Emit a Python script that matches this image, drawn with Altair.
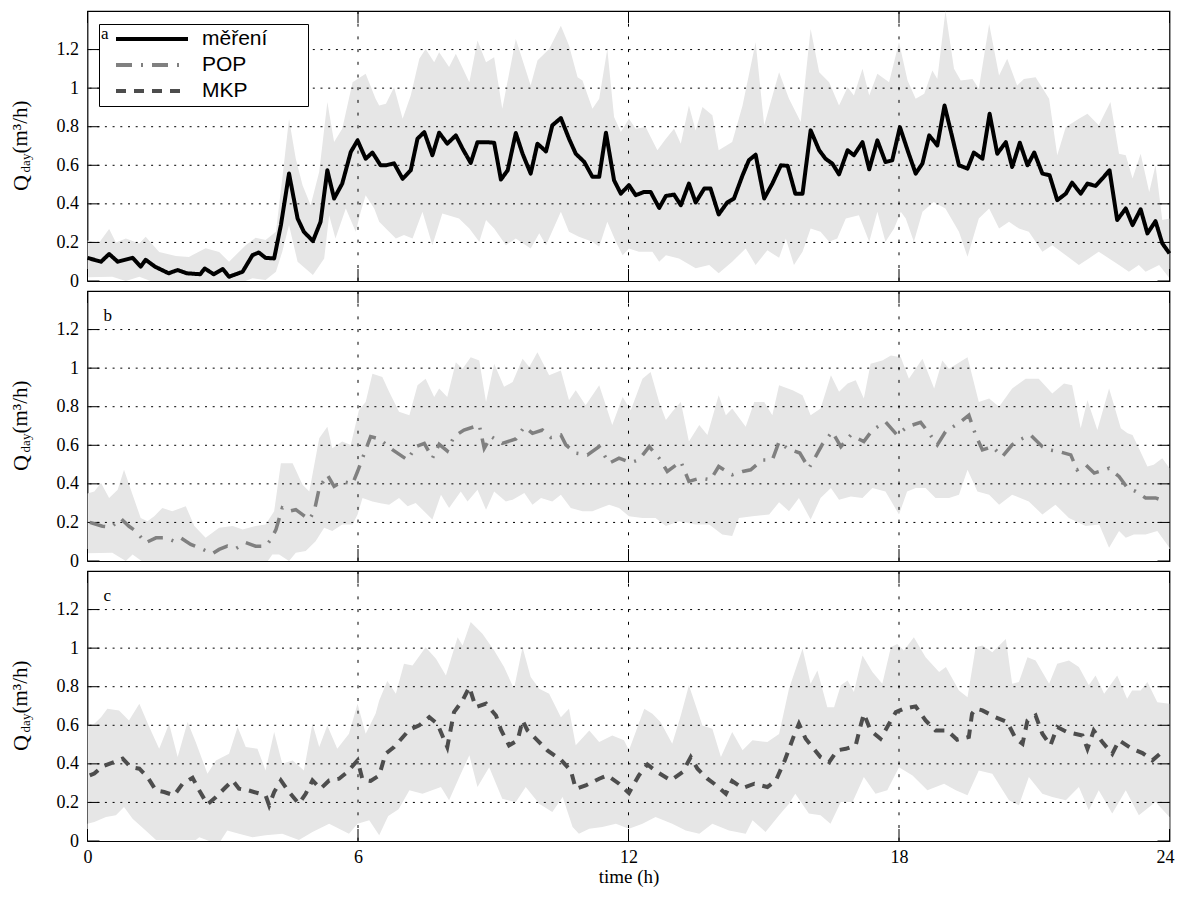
import altair as alt
import pandas as pd

W, H = 1082, 270
X_TICKS = [0, 6, 12, 18, 24]
Y_TICKS = [0, 0.2, 0.4, 0.6, 0.8, 1.0, 1.2]
SERIES = ["měření", "POP", "MKP"]
SERIES_COLORS = ["#000000", "#808080", "#4d4d4d"]
SERIES_DASH = [[1, 0], [16, 9, 2, 9], [10, 8]]
BAND = "#e6e6e6"

# ---- panel a: measured flow (time h, Q m3/h)
A_LINE = [(0.0,0.12),(0.3,0.10),(0.48,0.14),(0.67,0.10),(1.0,0.12),(1.18,0.075),(1.29,0.11),(1.5,0.074),(1.8,0.04),(2.0,0.057),(2.2,0.04),(2.5,0.035),(2.6,0.065),(2.8,0.035),(3.0,0.062),(3.14,0.022),(3.44,0.048),(3.66,0.134),(3.8,0.148),(3.95,0.12),(4.14,0.117),(4.29,0.29),(4.47,0.557),(4.66,0.324),(4.8,0.255),(5.0,0.207),(5.17,0.307),(5.32,0.574),(5.47,0.428),(5.65,0.505),(5.84,0.669),(5.99,0.729),(6.17,0.634),(6.32,0.666),(6.5,0.6),(6.62,0.6),(6.8,0.61),(6.99,0.53),(7.17,0.574),(7.32,0.738),(7.47,0.772),(7.65,0.652),(7.8,0.769),(7.98,0.712),(8.17,0.755),(8.32,0.686),(8.5,0.612),(8.65,0.72),(8.83,0.72),(9.02,0.717),(9.17,0.526),(9.32,0.574),(9.5,0.767),(9.65,0.66),(9.83,0.557),(9.98,0.712),(10.17,0.672),(10.31,0.807),(10.5,0.845),(10.68,0.738),(10.83,0.66),(11.02,0.617),(11.2,0.54),(11.35,0.54),(11.5,0.769),(11.68,0.522),(11.83,0.453),(12.01,0.497),(12.16,0.445),(12.35,0.462),(12.49,0.462),(12.68,0.379),(12.83,0.441),(13.01,0.448),(13.16,0.393),(13.34,0.505),(13.49,0.407),(13.68,0.479),(13.82,0.479),(14.0,0.345),(14.19,0.407),(14.34,0.428),(14.53,0.548),(14.67,0.626),(14.82,0.655),(15.01,0.428),(15.19,0.505),(15.38,0.6),(15.53,0.597),(15.7,0.453),(15.86,0.453),(16.04,0.781),(16.23,0.678),(16.37,0.634),(16.52,0.609),(16.67,0.553),(16.86,0.678),(17.0,0.652),(17.19,0.72),(17.34,0.579),(17.52,0.729),(17.7,0.617),(17.85,0.626),(18.02,0.798),(18.19,0.678),(18.37,0.557),(18.52,0.609),(18.67,0.755),(18.85,0.703),(19.01,0.91),(19.18,0.747),(19.33,0.6),(19.52,0.583),(19.66,0.666),(19.85,0.634),(20.01,0.867),(20.18,0.66),(20.37,0.72),(20.51,0.591),(20.68,0.717),(20.85,0.6),(21.0,0.666),(21.18,0.557),(21.34,0.548),(21.51,0.419),(21.7,0.453),(21.84,0.51),(22.03,0.453),(22.18,0.505),(22.36,0.493),(22.51,0.531),(22.67,0.574),(22.84,0.316),(23.03,0.376),(23.18,0.29),(23.36,0.372),(23.51,0.247),(23.69,0.31),(23.84,0.195),(24.0,0.143)]
A_UP = [(0.0,0.21),(0.26,0.2),(0.48,0.27),(0.63,0.2),(0.85,0.22),(1.15,0.195),(1.29,0.23),(1.59,0.15),(1.96,0.13),(2.25,0.125),(2.62,0.17),(2.92,0.15),(3.14,0.1),(3.51,0.186),(3.73,0.224),(3.95,0.212),(4.18,0.255),(4.32,0.53),(4.47,0.84),(4.62,0.634),(4.77,0.497),(4.95,0.393),(5.14,0.566),(5.32,0.928),(5.47,0.721),(5.65,0.79),(5.88,1.03),(6.17,1.074),(6.39,0.945),(6.47,0.91),(6.62,0.919),(6.8,1.005),(6.99,0.841),(7.17,0.962),(7.36,1.152),(7.5,1.203),(7.69,1.134),(7.8,1.186),(8.02,1.109),(8.17,1.178),(8.47,1.031),(8.65,1.247),(8.84,1.134),(9.02,1.16),(9.2,0.893),(9.5,1.255),(9.83,1.014),(9.98,1.143),(10.24,1.203),(10.5,1.324),(10.68,1.221),(10.87,1.057),(10.98,1.04),(11.2,0.893),(11.35,0.945),(11.53,1.203),(11.68,0.85),(11.83,0.772),(12.01,0.841),(12.16,0.79),(12.38,0.798),(12.64,0.678),(12.83,0.738),(13.01,0.79),(13.16,0.712),(13.34,0.91),(13.49,0.781),(13.64,0.902),(13.86,0.859),(14.0,0.678),(14.3,0.721),(14.53,0.91),(14.82,1.238),(15.01,0.807),(15.34,1.083),(15.56,0.945),(15.82,0.824),(16.04,1.307),(16.23,1.083),(16.45,1.031),(16.67,0.91),(16.86,1.005),(17.0,0.962),(17.19,1.1),(17.34,0.962),(17.52,1.074),(17.78,1.031),(18.0,1.238),(18.19,1.04),(18.37,0.945),(18.56,0.971),(18.74,1.091),(18.85,1.048),(19.03,1.4),(19.22,1.1),(19.37,1.04),(19.63,1.048),(19.77,0.997),(20.0,1.333),(20.22,1.066),(20.4,1.152),(20.62,1.014),(20.77,1.048),(21.03,1.057),(21.33,0.945),(21.51,0.652),(21.7,0.798),(21.99,0.841),(22.18,0.867),(22.43,0.807),(22.69,0.928),(22.88,0.66),(23.03,0.652),(23.18,0.531),(23.36,0.66),(23.55,0.462),(23.69,0.6),(23.84,0.316),(24.0,0.324)]
A_LO = [(0.0,0.02),(0.55,0.022),(0.85,0.0),(1.15,0.022),(1.4,0.0),(3.5,0.0),(3.66,0.014),(3.95,0.005),(4.18,0.048),(4.32,0.152),(4.47,0.29),(4.66,0.1),(5.0,0.031),(5.25,0.117),(5.36,0.341),(5.5,0.221),(5.73,0.376),(5.95,0.255),(6.06,0.359),(6.17,0.445),(6.36,0.376),(6.47,0.307),(6.69,0.255),(6.84,0.221),(7.02,0.238),(7.21,0.221),(7.43,0.359),(7.65,0.186),(7.87,0.35),(8.24,0.324),(8.47,0.272),(8.69,0.203),(8.84,0.316),(9.02,0.272),(9.28,0.186),(9.5,0.221),(9.83,0.169),(10.02,0.247),(10.17,0.186),(10.5,0.359),(10.68,0.255),(10.9,0.229),(11.2,0.203),(11.35,0.178),(11.53,0.307),(11.72,0.203),(11.87,0.134),(12.01,0.169),(12.23,0.152),(12.53,0.152),(12.68,0.1),(12.83,0.134),(13.12,0.117),(13.49,0.066),(13.79,0.083),(14.0,0.04),(14.3,0.1),(14.6,0.169),(14.82,0.083),(15.08,0.16),(15.34,0.12),(15.49,0.221),(15.67,0.083),(15.86,0.152),(16.04,0.272),(16.26,0.255),(16.45,0.203),(16.63,0.221),(16.82,0.324),(17.11,0.341),(17.34,0.203),(17.52,0.359),(17.7,0.203),(17.89,0.272),(18.04,0.359),(18.15,0.324),(18.33,0.203),(18.52,0.359),(18.77,0.41),(19.03,0.376),(19.33,0.255),(19.52,0.126),(19.77,0.324),(20.0,0.376),(20.22,0.272),(20.44,0.307),(20.66,0.272),(20.88,0.255),(21.18,0.152),(21.4,0.186),(21.7,0.134),(21.99,0.083),(22.21,0.117),(22.43,0.152),(22.66,0.117),(22.88,0.083),(23.1,0.048),(23.32,0.083),(23.47,0.048),(23.77,0.083),(24.0,0.014)]

# ---- panel b: POP prediction
B_LINE = [(0.05,0.2),(0.33,0.18),(0.52,0.175),(0.74,0.22),(0.92,0.18),(1.07,0.155),(1.29,0.095),(1.52,0.12),(1.74,0.12),(1.92,0.103),(2.07,0.12),(2.29,0.086),(2.51,0.065),(2.77,0.038),(2.92,0.06),(3.1,0.077),(3.29,0.065),(3.51,0.095),(3.73,0.077),(3.95,0.077),(4.07,0.112),(4.18,0.163),(4.32,0.275),(4.47,0.258),(4.62,0.266),(4.77,0.24),(4.92,0.215),(5.03,0.258),(5.14,0.378),(5.32,0.447),(5.47,0.387),(5.65,0.412),(5.88,0.4),(5.99,0.464),(6.1,0.533),(6.28,0.645),(6.47,0.633),(6.77,0.576),(7.1,0.524),(7.28,0.593),(7.47,0.61),(7.65,0.533),(7.8,0.605),(7.98,0.571),(8.13,0.645),(8.35,0.679),(8.69,0.705),(8.8,0.584),(8.95,0.645),(9.2,0.61),(9.5,0.633),(9.69,0.696),(9.87,0.662),(10.09,0.679),(10.28,0.64),(10.5,0.653),(10.61,0.602),(10.83,0.559),(11.09,0.55),(11.35,0.593),(11.57,0.507),(11.79,0.533),(12.05,0.511),(12.23,0.524),(12.46,0.593),(12.68,0.533),(12.86,0.464),(13.16,0.516),(13.34,0.413),(13.6,0.43),(13.82,0.421),(14.0,0.49),(14.3,0.447),(14.53,0.464),(14.71,0.473),(14.97,0.524),(15.19,0.524),(15.34,0.619),(15.52,0.584),(15.8,0.56),(16.0,0.481),(16.15,0.541),(16.3,0.605),(16.52,0.67),(16.71,0.593),(16.93,0.653),(17.22,0.619),(17.41,0.679),(17.7,0.722),(17.96,0.653),(18.18,0.696),(18.48,0.719),(18.67,0.662),(18.85,0.602),(19.03,0.67),(19.37,0.722),(19.55,0.756),(19.7,0.653),(19.85,0.576),(20.07,0.593),(20.29,0.541),(20.51,0.602),(20.66,0.627),(20.92,0.653),(21.18,0.593),(21.33,0.576),(21.55,0.567),(21.81,0.55),(21.95,0.473),(22.14,0.499),(22.33,0.456),(22.66,0.481),(22.88,0.438),(23.07,0.378),(23.25,0.361),(23.47,0.327),(23.69,0.327),(23.91,0.309)]
B_UP = [(0.0,0.35),(0.15,0.361),(0.3,0.404),(0.48,0.327),(0.67,0.37),(0.81,0.473),(1.0,0.344),(1.18,0.223),(1.33,0.206),(1.48,0.232),(1.66,0.275),(1.88,0.258),(2.18,0.284),(2.37,0.181),(2.62,0.12),(2.92,0.172),(3.22,0.181),(3.44,0.163),(3.73,0.181),(3.95,0.189),(4.14,0.258),(4.29,0.507),(4.55,0.507),(4.77,0.395),(4.92,0.361),(5.14,0.636),(5.32,0.696),(5.43,0.584),(5.65,0.619),(5.84,0.602),(6.02,0.782),(6.17,0.825),(6.32,0.971),(6.54,0.954),(6.69,0.877),(6.91,0.774),(7.14,0.756),(7.32,0.911),(7.5,0.945),(7.69,0.851),(7.8,0.894),(7.98,0.851),(8.17,1.031),(8.32,0.997),(8.5,1.057),(8.69,1.04),(8.84,0.825),(9.02,1.023),(9.24,0.903),(9.43,0.928),(9.65,1.049),(9.8,1.006),(9.98,1.083),(10.24,0.963),(10.5,0.988),(10.68,0.834),(10.83,0.885),(11.05,0.808),(11.35,0.911),(11.64,0.705),(11.87,0.851),(12.05,0.782),(12.31,0.945),(12.49,0.98),(12.68,0.825),(12.83,0.731),(12.97,0.774),(13.16,0.825),(13.34,0.619),(13.57,0.705),(13.75,0.653),(14.0,0.86),(14.16,0.756),(14.3,0.791),(14.6,0.696),(14.79,0.825),(15.01,0.825),(15.19,0.756),(15.34,0.911),(15.64,0.885),(15.86,0.86),(16.04,0.756),(16.26,0.791),(16.49,0.963),(16.67,0.877),(16.86,0.92),(17.04,0.937),(17.22,0.842),(17.37,1.023),(17.63,1.04),(17.82,1.066),(18.04,1.057),(18.22,0.945),(18.52,1.049),(18.78,0.894),(18.96,1.04),(19.11,0.997),(19.52,1.057),(19.77,0.825),(20.0,0.842),(20.22,0.8),(20.51,0.894),(20.81,0.945),(21.1,0.945),(21.4,0.868),(21.66,0.92),(21.84,0.911),(22.03,0.688),(22.18,0.834),(22.4,0.679),(22.66,0.894),(22.92,0.688),(23.07,0.662),(23.18,0.653),(23.32,0.584),(23.51,0.49),(23.65,0.499),(23.84,0.533),(24.0,0.481)]
B_LO = [(0.0,0.04),(0.55,0.043),(0.85,0.0),(1.0,0.034),(1.2,0.0),(4.0,0.0),(4.1,0.034),(4.25,0.034),(4.47,0.0),(4.62,0.043),(4.84,0.052),(5.06,0.103),(5.25,0.172),(5.43,0.155),(5.65,0.189),(5.88,0.189),(5.99,0.241),(6.1,0.327),(6.32,0.309),(6.5,0.3),(6.69,0.292),(6.91,0.327),(7.1,0.284),(7.28,0.301),(7.65,0.215),(7.84,0.344),(8.02,0.275),(8.28,0.361),(8.43,0.309),(8.65,0.37),(8.84,0.266),(9.02,0.361),(9.28,0.309),(9.43,0.318),(9.69,0.352),(9.87,0.292),(10.06,0.327),(10.31,0.309),(10.5,0.344),(10.72,0.275),(10.98,0.258),(11.2,0.258),(11.38,0.275),(11.57,0.292),(11.79,0.275),(12.01,0.232),(12.31,0.223),(12.6,0.223),(12.83,0.181),(13.12,0.206),(13.49,0.189),(13.79,0.189),(14.08,0.138),(14.3,0.129),(14.45,0.223),(14.75,0.232),(15.12,0.241),(15.34,0.305),(15.56,0.258),(15.78,0.327),(16.04,0.215),(16.26,0.327),(16.49,0.378),(16.67,0.318),(16.93,0.335),(17.19,0.327),(17.41,0.378),(17.7,0.361),(18.0,0.241),(18.18,0.361),(18.37,0.378),(18.59,0.378),(18.81,0.327),(19.11,0.327),(19.33,0.344),(19.52,0.473),(19.74,0.361),(20.0,0.344),(20.22,0.292),(20.51,0.344),(20.88,0.309),(21.18,0.241),(21.47,0.292),(21.77,0.223),(22.14,0.181),(22.44,0.189),(22.66,0.069),(22.88,0.155),(23.03,0.12),(23.21,0.138),(23.47,0.138),(23.73,0.155),(24.0,0.069)]

# ---- panel c: MKP prediction
C_LINE = [(0.05,0.34),(0.15,0.35),(0.33,0.387),(0.59,0.41),(0.78,0.427),(0.96,0.383),(1.15,0.375),(1.33,0.332),(1.52,0.262),(1.7,0.254),(1.92,0.237),(2.11,0.297),(2.33,0.328),(2.48,0.262),(2.66,0.19),(2.85,0.228),(3.07,0.28),(3.22,0.314),(3.36,0.271),(3.58,0.262),(3.77,0.249),(3.95,0.237),(4.03,0.185),(4.14,0.254),(4.29,0.314),(4.47,0.254),(4.69,0.193),(4.84,0.245),(4.99,0.314),(5.17,0.271),(5.36,0.314),(5.58,0.323),(5.76,0.357),(5.99,0.418),(6.1,0.318),(6.28,0.311),(6.47,0.34),(6.61,0.452),(6.8,0.487),(7.14,0.577),(7.36,0.6),(7.58,0.642),(7.76,0.608),(7.98,0.487),(8.13,0.668),(8.32,0.729),(8.47,0.798),(8.61,0.694),(8.84,0.712),(9.06,0.651),(9.17,0.577),(9.35,0.496),(9.54,0.522),(9.65,0.625),(9.76,0.573),(9.98,0.522),(10.2,0.47),(10.5,0.421),(10.72,0.366),(10.83,0.271),(11.05,0.288),(11.35,0.323),(11.53,0.34),(11.79,0.297),(12.01,0.249),(12.23,0.34),(12.42,0.397),(12.64,0.357),(12.94,0.314),(13.2,0.357),(13.38,0.435),(13.53,0.375),(13.75,0.323),(13.9,0.297),(14.16,0.245),(14.3,0.311),(14.53,0.275),(14.79,0.297),(15.08,0.28),(15.27,0.314),(15.47,0.42),(15.66,0.54),(15.78,0.608),(15.93,0.53),(16.08,0.487),(16.26,0.435),(16.45,0.409),(16.63,0.47),(16.82,0.478),(17.04,0.496),(17.15,0.599),(17.22,0.66),(17.37,0.573),(17.59,0.53),(17.78,0.608),(17.93,0.668),(18.11,0.686),(18.37,0.698),(18.59,0.625),(18.81,0.573),(19.07,0.573),(19.29,0.525),(19.55,0.54),(19.62,0.66),(19.7,0.686),(19.85,0.677),(20.14,0.642),(20.4,0.617),(20.59,0.53),(20.74,0.504),(20.85,0.625),(21.03,0.651),(21.18,0.556),(21.36,0.496),(21.51,0.591),(21.73,0.565),(22.07,0.547),(22.18,0.478),(22.32,0.573),(22.51,0.513),(22.73,0.452),(22.88,0.522),(23.17,0.478),(23.4,0.456),(23.62,0.418),(23.88,0.47)]
C_UP = [(0.0,0.6),(0.15,0.608),(0.3,0.642),(0.44,0.686),(0.7,0.677),(0.92,0.625),(1.15,0.712),(1.37,0.591),(1.59,0.478),(1.81,0.608),(2.0,0.435),(2.22,0.617),(2.4,0.513),(2.66,0.349),(2.85,0.418),(3.14,0.453),(3.33,0.591),(3.51,0.487),(3.77,0.478),(3.95,0.366),(4.14,0.565),(4.32,0.401),(4.55,0.418),(4.8,0.366),(4.99,0.608),(5.14,0.487),(5.32,0.599),(5.54,0.478),(5.8,0.556),(5.99,0.712),(6.17,0.556),(6.39,0.66),(6.47,0.729),(6.65,0.83),(6.84,0.763),(7.02,0.919),(7.21,0.91),(7.5,1.005),(7.73,0.945),(7.95,0.858),(8.21,1.057),(8.32,1.014),(8.5,1.135),(8.76,1.074),(9.02,0.988),(9.24,0.902),(9.46,0.789),(9.65,1.005),(9.83,0.85),(10.02,0.789),(10.24,0.763),(10.5,0.642),(10.68,0.686),(10.83,0.496),(11.13,0.573),(11.35,0.513),(11.64,0.547),(11.9,0.522),(12.01,0.47),(12.35,0.686),(12.53,0.66),(12.71,0.617),(12.97,0.504),(13.16,0.651),(13.34,0.807),(13.64,0.599),(13.86,0.582),(14.05,0.435),(14.3,0.565),(14.53,0.47),(14.75,0.522),(15.08,0.513),(15.34,0.555),(15.56,0.79),(15.86,0.997),(16.04,0.815),(16.19,0.884),(16.41,0.694),(16.56,0.694),(16.71,0.807),(16.86,0.832),(17.0,0.772),(17.19,0.962),(17.41,0.876),(17.63,0.815),(17.82,1.005),(17.96,1.022),(18.11,0.988),(18.33,1.057),(18.59,0.953),(18.89,0.876),(19.04,0.902),(19.33,0.781),(19.52,0.746),(19.7,1.005),(19.85,1.014),(20.07,0.979),(20.37,1.048),(20.51,0.815),(20.66,0.824),(20.85,0.953),(21.03,0.936),(21.33,0.815),(21.51,0.919),(21.77,0.936),(21.99,0.902),(22.21,0.807),(22.36,0.858),(22.55,0.763),(22.84,0.858),(23.06,0.737),(23.17,0.781),(23.36,0.781),(23.51,0.824),(23.73,0.72),(24.0,0.712)]
C_LO = [(0.0,0.09),(0.15,0.098),(0.41,0.124),(0.63,0.133),(0.81,0.176),(1.0,0.116),(1.29,0.055),(1.52,0.005),(2.4,0.005),(2.48,0.02),(2.7,0.0),(2.95,0.0),(3.1,0.055),(3.36,0.038),(3.66,0.02),(3.95,0.03),(4.32,0.038),(4.69,0.005),(4.99,0.047),(5.36,0.09),(5.8,0.038),(5.99,0.09),(6.25,0.107),(6.47,0.03),(6.67,0.13),(6.9,0.165),(7.14,0.263),(7.43,0.245),(7.84,0.28),(8.02,0.211),(8.28,0.349),(8.47,0.444),(8.65,0.28),(8.91,0.383),(9.2,0.219),(9.5,0.202),(9.72,0.28),(10.02,0.193),(10.31,0.15),(10.54,0.228),(10.76,0.073),(10.9,0.038),(11.13,0.064),(11.42,0.073),(11.72,0.09),(12.01,0.064),(12.31,0.09),(12.6,0.124),(12.97,0.09),(13.27,0.055),(13.57,0.038),(13.86,0.09),(14.23,0.055),(14.6,0.038),(14.75,0.107),(15.04,0.047),(15.34,0.133),(15.56,0.193),(15.7,0.245),(16.0,0.142),(16.26,0.133),(16.48,0.09),(16.71,0.202),(16.97,0.202),(17.22,0.332),(17.48,0.245),(17.74,0.263),(18.0,0.383),(18.3,0.34),(18.63,0.263),(19.0,0.297),(19.26,0.263),(19.52,0.237),(19.77,0.366),(20.07,0.349),(20.44,0.211),(20.66,0.185),(20.88,0.332),(21.18,0.245),(21.4,0.228),(21.7,0.211),(21.99,0.28),(22.21,0.159),(22.43,0.263),(22.73,0.142),(23.03,0.263),(23.32,0.133),(23.69,0.202),(24.0,0.124)]

SERIF = "Liberation Serif"
SANS = "Liberation Sans"

xs = alt.Scale(domain=[0, 24], nice=False, zero=False)
ys = alt.Scale(domain=[0, 1.4], nice=False)


def X(field, show):
    if not show:
        return alt.X(f"{field}:Q", scale=xs, axis=None)
    return alt.X(f"{field}:Q", scale=xs, title="time (h)",
                 axis=alt.Axis(values=X_TICKS, ticks=False, domain=False, grid=False,
                               labelFlush=True, labelFlushOffset=4.5,
                               labelFont=SERIF, labelFontSize=18, labelColor="black",
                               labelPadding=7, titleFont=SERIF, titleFontSize=19,
                               titleFontWeight="normal", titleColor="black", titlePadding=1))


def Y(field):
    return alt.Y(f"{field}:Q", scale=ys, title=None,
                 axis=alt.Axis(values=Y_TICKS, format="~g", ticks=False, domain=False, grid=False,
                               labelFont=SERIF, labelFontSize=18, labelColor="black",
                               labelPadding=9))


def df(pairs):
    return pd.DataFrame(pairs, columns=["t", "q"])


def one(s):
    return pd.DataFrame({"s": [s]})


def ytitle_piece(text, size, x, y):
    return alt.Chart(one(text)).mark_text(font=SERIF, fontSize=size, angle=270, align="center",
                                          baseline="alphabetic", color="black").encode(
        text="s:N", x=alt.value(x), y=alt.value(y))


def panel(line_layer, up, lo, letter, show_x):
    band_up = alt.Chart(df(up)).mark_area(color=BAND, clip=True).encode(x=X("t", show_x), y=Y("q"))
    band_lo = alt.Chart(df(lo)).mark_area(color="white", clip=True).encode(x=X("t", show_x), y=Y("q"))
    ygrid = alt.Chart(pd.DataFrame({"v": Y_TICKS[1:]})).mark_rule(
        color="black", strokeWidth=1, strokeDash=[2, 5.7]).encode(y=Y("v"))
    xgrid = alt.Chart(pd.DataFrame({"v": X_TICKS[1:-1]})).mark_rule(
        color="black", strokeWidth=1, strokeDash=[3, 9.7]).encode(x=X("v", show_x))
    xt = pd.DataFrame({"v": X_TICKS})
    yt = pd.DataFrame({"v": Y_TICKS})
    tick_b = alt.Chart(xt).mark_rule(color="black").encode(x=X("v", show_x), y=alt.value(H), y2=alt.value(H - 12))
    tick_t = alt.Chart(xt).mark_rule(color="black").encode(x=X("v", show_x), y=alt.value(0), y2=alt.value(12))
    tick_l = alt.Chart(yt).mark_rule(color="black").encode(y=Y("v"), x=alt.value(0), x2=alt.value(12))
    tick_r = alt.Chart(yt).mark_rule(color="black").encode(y=Y("v"), x=alt.value(W - 12), x2=alt.value(W))
    layers = [band_up, band_lo, ygrid, xgrid, tick_b, tick_t, tick_l, tick_r, line_layer(show_x)]
    if letter:
        layers.append(alt.Chart(one(letter)).mark_text(font=SERIF, fontSize=17, align="left",
                                                       baseline="alphabetic", color="black")
                      .encode(text="s:N", x=alt.value(16), y=alt.value(30)))
    layers.append(ytitle_piece("Q", 22, -60, 172))
    layers.append(ytitle_piece("day", 13, -57.5, 152))
    layers.append(ytitle_piece("(m³/h)", 21, -61, 116))
    return alt.layer(*layers).properties(width=W, height=H)


legend = alt.Legend(title="a", orient="none", legendX=11.5, legendY=13, symbolType="stroke",
                    symbolSize=5184, symbolStrokeWidth=4, clipHeight=26, rowPadding=0,
                    labelFont=SANS, labelFontSize=21, labelColor="black", labelOffset=12,
                    labelExpr="datum.label + '\u00a0\u00a0\u00a0\u00a0\u2800'",
                    fillColor="white", strokeColor="black", padding=2, titleOrient="left",
                    titleFont=SERIF, titleFontSize=17, titleFontWeight="normal", titleColor="black",
                    titlePadding=5, titleAnchor="start")


def line_a(show_x):
    d = df(A_LINE)
    d["series"] = SERIES[0]
    return alt.Chart(d).mark_line(strokeWidth=4, strokeJoin="round").encode(
        x=X("t", show_x), y=Y("q"),
        color=alt.Color("series:N", scale=alt.Scale(domain=SERIES, range=SERIES_COLORS), legend=legend),
        strokeDash=alt.StrokeDash("series:N", scale=alt.Scale(domain=SERIES, range=SERIES_DASH), legend=legend))


def line_b(show_x):
    return alt.Chart(df(B_LINE)).mark_line(strokeWidth=3.5, color=SERIES_COLORS[1],
                                           strokeDash=SERIES_DASH[1]).encode(x=X("t", show_x), y=Y("q"))


def line_c(show_x):
    return alt.Chart(df(C_LINE)).mark_line(strokeWidth=4, color=SERIES_COLORS[2],
                                           strokeDash=SERIES_DASH[2]).encode(x=X("t", show_x), y=Y("q"))


pa = panel(line_a, A_UP, A_LO, None, False)
pb = panel(line_b, B_UP, B_LO, "b", False)
pc = panel(line_c, C_UP, C_LO, "c", True)

chart = alt.vconcat(pa, pb, pc, spacing=-2).configure_view(
    stroke="black", strokeWidth=1.2).properties(
    padding={"left": 0.5, "top": 1, "right": 0, "bottom": 0}, background="white")

chart.save("out.html", embed_options={"renderer": "svg", "actions": False})
